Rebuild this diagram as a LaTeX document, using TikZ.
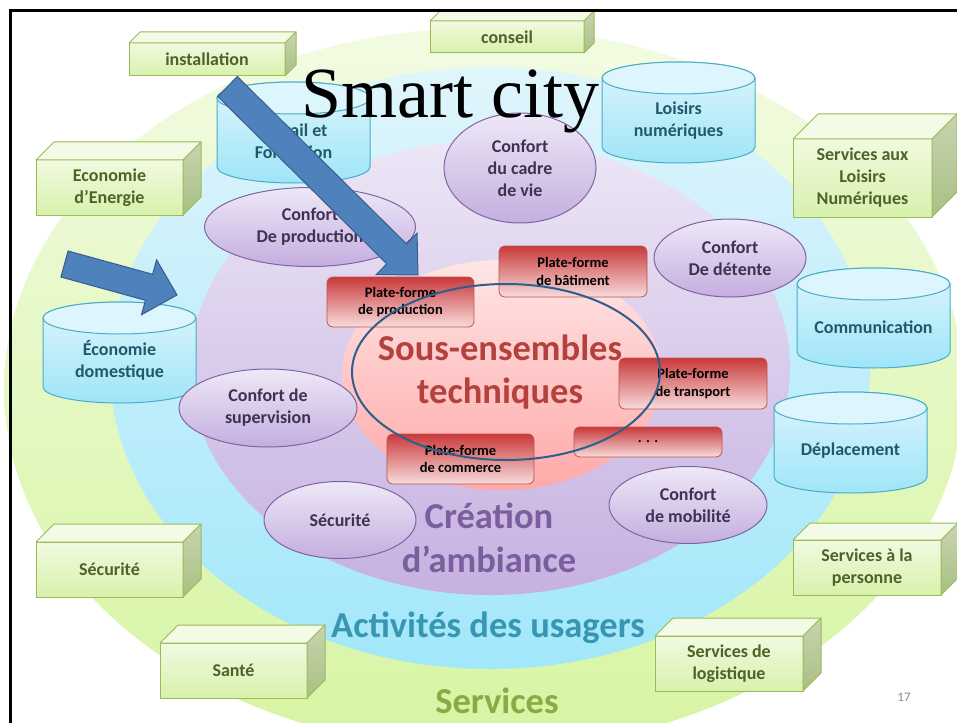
\documentclass[tikz,border=0pt]{standalone}
\usepackage{fontspec}
\setmainfont{Carlito}
\newfontfamily\tmsfont{Liberation Serif}
\usetikzlibrary{shapes.geometric,calc}
\definecolor{svcTop}{HTML}{F2FBE2}
\definecolor{svcBot}{HTML}{D6F5A2}
\definecolor{actTop}{HTML}{E0F5FC}
\definecolor{actBot}{HTML}{A2E7FA}
\definecolor{ambTop}{HTML}{ECE6F6}
\definecolor{ambBot}{HTML}{C6B1E0}
\definecolor{pinkTop}{HTML}{FFE6E6}
\definecolor{pinkBot}{HTML}{FFA8A8}
\definecolor{gFrontTop}{HTML}{F1FAE0}
\definecolor{gFrontBot}{HTML}{D8F1AC}
\definecolor{gTopFace}{HTML}{F3FBE6}
\definecolor{gSideTop}{HTML}{C8D4B0}
\definecolor{gSideBot}{HTML}{A8C083}
\definecolor{gBorder}{HTML}{9BBB59}
\definecolor{gText}{HTML}{4F6228}
\definecolor{cTop}{HTML}{DDF5FC}
\definecolor{cBot}{HTML}{9FE5F8}
\definecolor{cCap}{HTML}{DDF5FC}
\definecolor{cBorder}{HTML}{4BACC6}
\definecolor{cText}{HTML}{215968}
\definecolor{pTop}{HTML}{EEE8F7}
\definecolor{pBot}{HTML}{C4AEDF}
\definecolor{pBorder}{HTML}{8064A2}
\definecolor{pText}{HTML}{3F3151}
\definecolor{rTop}{HTML}{C9393A}
\definecolor{rBot}{HTML}{F8DCDC}
\definecolor{rBorder}{HTML}{C0504D}
\definecolor{ringBlue}{HTML}{2E5E8E}
\definecolor{sousRed}{HTML}{B3423F}
\definecolor{ambPurple}{HTML}{7A5E9E}
\definecolor{actTeal}{HTML}{3796B2}
\definecolor{svcGreen}{HTML}{87AB45}
\definecolor{aFill}{HTML}{4F81BD}
\definecolor{aBorder}{HTML}{385D8A}
\definecolor{pgGray}{HTML}{8C8C8C}
\tikzset{
 gfront/.style={draw=gBorder, line width=1pt, top color=gFrontTop, bottom color=gFrontBot, inner sep=0pt, outer sep=0pt, text=gText, font=\fontsize{18}{22}\selectfont\bfseries, align=center},
 gtopface/.style={draw=gBorder, line width=1pt, fill=gTopFace, line join=round},
 gsideface/.style={draw=gBorder, line width=1pt, top color=gSideTop, bottom color=gSideBot, line join=round},
 cylbody/.style={draw=cBorder, line width=1pt, top color=cTop, bottom color=cBot},
 cylcap/.style={draw=cBorder, line width=1pt, fill=cCap},
 cyltext/.style={text=cText, font=\fontsize{18}{22}\selectfont\bfseries, align=center},
 pell/.style={ellipse, draw=pBorder, line width=1pt, top color=pTop, bottom color=pBot, inner sep=0pt, outer sep=0pt, text=pText, font=\fontsize{18}{22}\selectfont\bfseries, align=center},
 rbox/.style={rounded corners=6pt, draw=rBorder, line width=0.8pt, top color=rTop, bottom color=rBot, inner sep=0pt, outer sep=0pt, text=black, font=\fontsize{14.5}{17.5}\selectfont\bfseries, align=center},
 bigarrow/.style={fill=aFill, draw=aBorder, line width=1pt, line join=miter},
 biglabel/.style={anchor=base, font=\fontsize{36.5}{43}\selectfont\bfseries},
}
\newcommand\gbox[7]{%
 \node[gfront, minimum width={#4-#2}, minimum height={#5-#3}] (#1) at ({(#2+#4)/2},{-(#3+#5)/2}) {#7};
 \path[gtopface] (#1.north west) -- ++(#6,#6) -- ($(#1.north east)+(#6,#6)$) -- (#1.north east) -- cycle;
 \path[gsideface] (#1.north east) -- ++(#6,#6) -- ($(#1.south east)+(#6,#6)$) -- (#1.south east) -- cycle;
}
\newcommand\cylinder[7]{%
 \pgfmathsetmacro\cxr{(#3-#2)/2}%
 \pgfmathsetmacro\cxc{(#3+#2)/2}%
 \path[cylbody] (#2,{-(#4+16)}) -- (#2,{-(#5-16)}) arc[start angle=180,end angle=360,x radius=\cxr,y radius=16] -- (#3,{-(#4+16)}) arc[start angle=0,end angle=180,x radius=\cxr,y radius=16] -- cycle;
 \path[cylcap] (\cxc,{-(#4+16)}) ellipse[x radius=\cxr,y radius=16];
 \node[cyltext] (#1) at (\cxc,{-#6}) {#7};
}
\newcommand\redbox[6]{%
 \node[rbox, minimum width={#4-#2}, minimum height={#5-#3}] (#1) at ({(#2+#4)/2},{-(#3+#5)/2}) {#6};
}
\begin{document}
\begin{tikzpicture}[x=1pt,y=1pt]
\useasboundingbox (0,0) rectangle (957,-722);
\begin{scope}
\clip (0,0) rectangle (957,-722);
\fill[white] (0,0) rectangle (957,-722);
% concentric zones
\path[top color=svcTop, bottom color=svcBot] (484,-389) ellipse[x radius=480, y radius=361];
\path[top color=actTop, bottom color=actBot] (490,-368) ellipse[x radius=380, y radius=301];
\path[top color=ambTop, bottom color=ambBot] (490,-368) ellipse[x radius=300, y radius=227];
\path[top color=pinkTop, bottom color=pinkBot] (502,-375) ellipse[x radius=160, y radius=115];
% zone labels
\node[biglabel, text=sousRed] (sous1) at (500,-360) {Sous-ensembles};
\node[biglabel, text=sousRed] (sous2) at (500,-403) {techniques};
\node[biglabel, text=ambPurple] (amb1) at (489,-528) {Création};
\node[biglabel, text=ambPurple] (amb2) at (489,-572) {d’ambiance};
\node[biglabel, text=actTeal] (act) at (488,-637) {Activités des usagers};
\node[biglabel, text=svcGreen] (svc) at (497,-713) {Services};
% green service boxes
\gbox{inst}{129}{43}{285}{76}{11}{installation}
\gbox{cons}{430}{21}{584}{53}{10}{conseil}
\gbox{ecoE}{36}{160}{183}{215}{18}{Economie\\d’Energie}
\gbox{loisS}{793}{139}{932}{217}{25}{Services aux\\Loisirs\\Numériques}
\gbox{secB}{36}{542}{183}{597}{18}{Sécurité}
\gbox{sante}{160}{643}{307}{698}{18}{Santé}
\gbox{pers}{793}{540}{941}{595}{17}{Services à la\\personne}
\gbox{logi}{655}{636}{803}{691}{18}{Services de\\logistique}
% cylinders
\cylinder{trav}{217}{370}{82}{183}{141}{Travail et\\Formation}
\cylinder{lois}{602}{755}{62}{163}{121}{Loisirs\\numériques}
\cylinder{comm}{797}{950}{268}{368}{327}{Communication}
\cylinder{depl}{774}{927}{392}{493}{451}{Déplacement}
\cylinder{ecoD}{43}{196}{302}{403}{360}{Économie\\domestique}
% comfort ellipses
\node[pell, minimum width=211, minimum height=79] (cprod) at (310,-227) {Confort\\De production};
\node[pell, minimum width=152, minimum height=110] (ccadre) at (520,-168) {Confort\\du cadre\\de vie};
\node[pell, minimum width=152, minimum height=78] (cdet) at (730,-258) {Confort\\De détente};
\node[pell, minimum width=178, minimum height=78] (csup) at (268,-408) {Confort de\\supervision};
\node[pell, minimum width=152, minimum height=77] (csec) at (340,-520) {Sécurité};
\node[pell, minimum width=158, minimum height=77] (cmob) at (688,-505) {Confort\\de mobilité};
% technical platforms
\redbox{pprod}{327}{277}{474}{327}{Plate-forme\\de production}
\redbox{pbat}{499}{246}{647}{297}{Plate-forme\\de bâtiment}
\redbox{ptrans}{619}{358}{767}{409}{Plate-forme\\de transport}
\redbox{petc}{574}{427}{722}{457}{. . .}
\redbox{pcom}{387}{434}{534}{484}{Plate-forme\\de commerce}
% outline ring
\draw[ringBlue, line width=2pt] (506,-372) ellipse[x radius=154, y radius=88];
% title
\node[anchor=base, font=\tmsfont\fontsize{72}{80}\selectfont, text=black, inner sep=0pt] (title) at (450,-118) {Smart city};
% block arrows
\path[bigarrow, shift={(227.5,-86.5)}, rotate=-44.7] (0,14) -- (238,14) -- (238,29) -- (268,0) -- (238,-29) -- (238,-14) -- (0,-14) -- cycle;
\path[bigarrow, shift={(64.5,-264)}, rotate=-15.4] (0,13.5) -- (87.7,13.5) -- (87.7,28.5) -- (116.7,0) -- (87.7,-28.5) -- (87.7,-13.5) -- (0,-13.5) -- cycle;
% page number
\node[font=\fontsize{13}{15}\selectfont, text=pgGray] (pg) at (904,-697) {17};
% slide frame
\draw[black, line width=2.7pt] (10.7,-730) -- (10.7,-10.7) -- (965,-10.7);
\end{scope}
\end{tikzpicture}
\end{document}
